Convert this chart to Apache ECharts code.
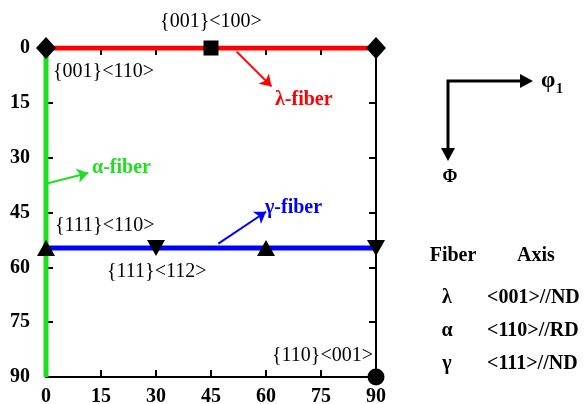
<!DOCTYPE html>
<html>
<head>
<meta charset="utf-8">
<script src="https://cdn.jsdelivr.net/npm/echarts@6/dist/echarts.min.js"></script>
<style>html,body{margin:0;padding:0;background:#fff}#main{width:587px;height:404px}</style>
</head>
<body>
<div id="main"></div>
<script>
// 取向线数据 (φ1, Φ)
var ticks = [0, 15, 30, 45, 60, 75, 90];
var lambdaFiber = [[0, 0], [90, 0]];
var alphaFiber = [[0, 0], [0, 90]];
var gammaFiber = [[0, 54.7], [90, 54.7]];
var diamondPts = [[0, 0], [90, 0]];
var squarePts = [[45, 0]];
var triUpPts = [[0, 54.7], [60, 54.7]];
var triDownPts = [[30, 54.7], [90, 54.7]];
var circlePts = [[90, 90]];
var fiberNames = ['λ', 'α', 'γ'];
var fiberAxes = ['<001>//ND', '<110>//RD', '<111>//ND'];

var serif = '"Liberation Serif","DejaVu Serif",serif';
var chart = echarts.init(document.getElementById('main'));

function ax(pos, show) {
    return {
        type: 'value', position: pos, min: 0, max: 90, interval: 15,
        axisLine: {show: true, onZero: false, lineStyle: {color: '#000', width: 2}},
        axisTick: {show: true, inside: true, length: 7, lineStyle: {color: '#000', width: 2}},
        axisLabel: {show: show, color: '#000', fontFamily: serif, fontWeight: 'bold', fontSize: 20,
            margin: pos == 'left' ? 16 : 10},
        splitLine: {show: false}
    };
}
var xTop = ax('top', false), xBot = ax('bottom', true);
var yL = ax('left', true), yR = ax('right', false);
yL.inverse = true; yR.inverse = true;

function line(data, color) {
    return {type: 'line', data: data, symbol: 'none', z: 3, lineStyle: {color: color, width: 5}, silent: true};
}
function mark(data, sym, size, rot) {
    return {type: 'scatter', data: data, symbol: sym, symbolSize: size, symbolRotate: rot || 0,
        itemStyle: {color: '#000', opacity: 1}, z: 5, silent: true};
}
function arrow(a, b, color) {
    return {type: 'line', data: [], markLine: {silent: true, symbol: ['none', 'arrow'], symbolSize: 11,
        label: {show: false}, lineStyle: {color: color, width: 2, type: 'solid'},
        data: [[{coord: a}, {coord: b}]]}};
}
function txt(x, y, s, color, bold, size, align) {
    return {type: 'text', x: x, y: y, style: {text: s, fill: color || '#000', font: (bold ? 'bold ' : '') + (size || 16) + 'px ' + serif,
        textAlign: align || 'left', textVerticalAlign: 'middle'}};
}

var graphics = [
    txt(211, 22, '{001}<100>', '#000', false, 20, 'center'),
    txt(53, 72, '{001}<110>', '#000', false, 20),
    txt(275, 100, 'λ-fiber', '#f00', true, 20),
    txt(92, 168, 'α-fiber', '#1ee01e', true, 20),
    txt(265, 208, 'γ-fiber', '#00f', true, 20),
    txt(55, 226, '{111}<110>', '#000', false, 20),
    txt(107, 272, '{111}<112>', '#000', false, 20),
    txt(272, 356, '{110}<001>', '#000', false, 20),
    {type: 'polyline', shape: {points: [[448, 150], [448, 81], [522, 81]]}, style: {stroke: '#000', lineWidth: 3, fill: null}},
    {type: 'polygon', shape: {points: [[533, 81], [520, 74], [520, 88]]}, style: {fill: '#000'}},
    {type: 'polygon', shape: {points: [[448, 161], [441, 148], [455, 148]]}, style: {fill: '#000'}},
    txt(541, 81, 'φ', '#000', true, 23),
    txt(556, 89, '1', '#000', true, 14),
    txt(450, 177, 'Φ', '#000', true, 18, 'center'),
    txt(453, 256, 'Fiber', '#000', true, 20, 'center'),
    txt(536, 256, 'Axis', '#000', true, 20, 'center')
];
fiberNames.forEach(function (n, i) {
    graphics.push(txt(447, 298 + i * 33, n, '#000', true, 20, 'center'));
    graphics.push(txt(487, 298 + i * 33, fiberAxes[i], '#000', true, 20));
});

chart.setOption({
    animation: false,
    grid: {left: 46, right: 211, top: 48, bottom: 27, outerBoundsMode: 'none', containLabel: false},
    xAxis: [xBot, xTop],
    yAxis: [yL, yR],
    series: [
        line(lambdaFiber, '#f00'),
        line(alphaFiber, '#1ee01e'),
        line(gammaFiber, '#00f'),
        arrow([52, 1], [61.5, 10.5], '#f00'),
        arrow([0.5, 37], [11.5, 34.2], '#1ee01e'),
        arrow([47, 53.5], [60, 44.8], '#00f'),
        mark(diamondPts, 'diamond', [20, 22]),
        mark(squarePts, 'rect', 15),
        mark(triUpPts, 'triangle', [18, 16]),
        mark(triDownPts, 'triangle', [18, 16], 180),
        mark(circlePts, 'circle', 17)
    ],
    graphic: graphics
});
</script>
</body>
</html>
